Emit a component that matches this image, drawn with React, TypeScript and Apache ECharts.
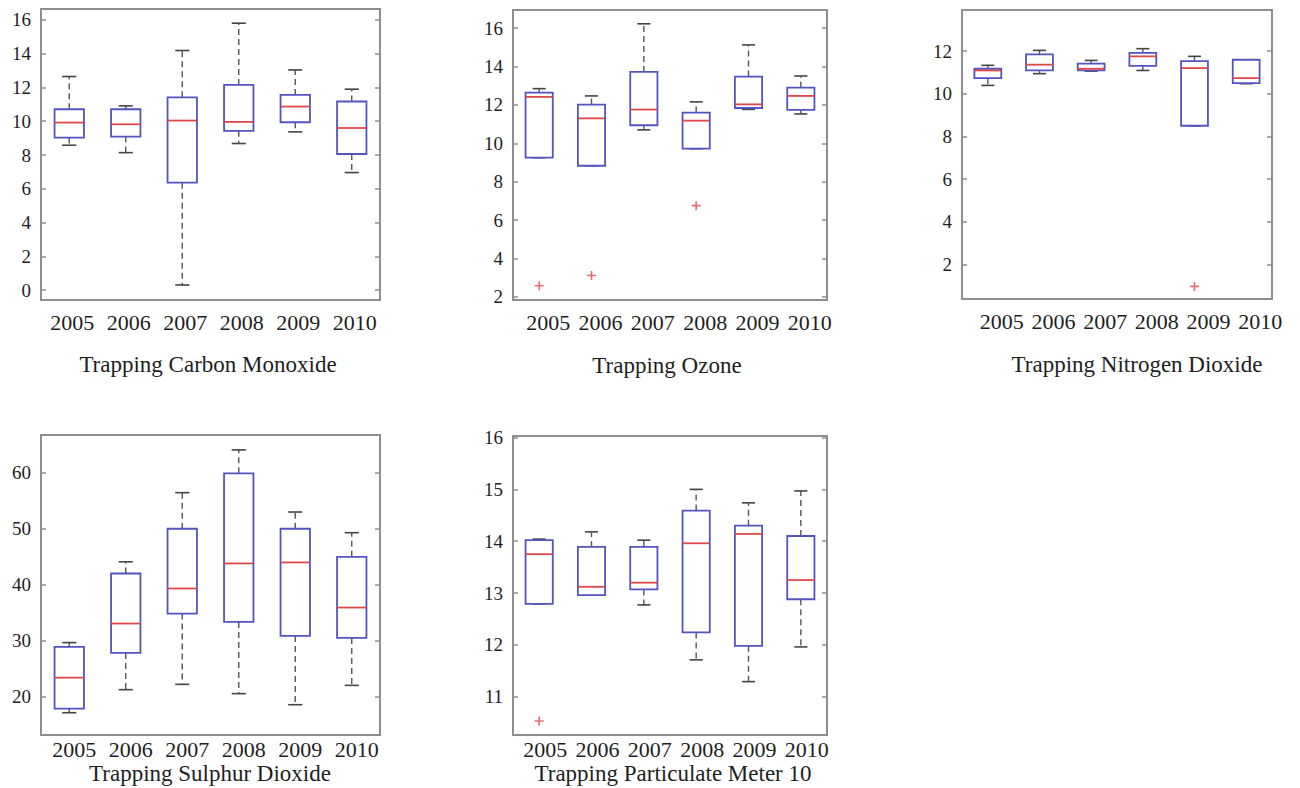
import React, { useEffect, useRef } from "react";
import * as echarts from "echarts";

// Years shown on every panel
const years = ["2005", "2006", "2007", "2008", "2009", "2010"];

// Five-number summaries per year: [lower whisker, Q1, median, Q3, upper whisker]
const carbonMonoxide = [
  [8.58, 9.03, 9.92, 10.71, 12.65],
  [8.14, 9.09, 9.82, 10.71, 10.91],
  [0.3, 6.36, 10.04, 11.42, 14.19],
  [8.68, 9.43, 9.96, 12.15, 15.81],
  [9.37, 9.94, 10.87, 11.56, 13.04],
  [6.96, 8.06, 9.6, 11.17, 11.9],
];
const carbonMonoxideOutliers: number[][] = [];

const ozone = [
  [9.25, 9.25, 12.42, 12.64, 12.85],
  [8.83, 8.83, 11.3, 12.02, 12.47],
  [10.7, 10.94, 11.76, 13.72, 16.23],
  [9.72, 9.72, 11.18, 11.6, 12.16],
  [11.77, 11.84, 12.03, 13.48, 15.13],
  [11.53, 11.74, 12.47, 12.9, 13.51],
];
const ozoneOutliers = [
  [0, 2.57],
  [1, 3.11],
  [3, 6.75],
];

const nitrogenDioxide = [
  [10.39, 10.73, 11.09, 11.17, 11.33],
  [10.94, 11.09, 11.36, 11.84, 12.03],
  [11.06, 11.09, 11.17, 11.41, 11.56],
  [11.09, 11.3, 11.75, 11.91, 12.11],
  [8.5, 8.5, 11.2, 11.53, 11.75],
  [10.47, 10.5, 10.73, 11.59, 11.59],
];
const nitrogenDioxideOutliers = [[4, 0.98]];

const sulphurDioxide = [
  [17.14, 17.86, 23.39, 28.87, 29.64],
  [21.25, 27.8, 33.04, 41.96, 44.05],
  [22.2, 34.82, 39.29, 49.94, 56.37],
  [20.54, 33.33, 43.75, 59.82, 63.99],
  [18.57, 30.83, 43.93, 49.94, 52.92],
  [22.02, 30.48, 35.89, 44.94, 49.23],
];
const sulphurDioxideOutliers: number[][] = [];

const particulate10 = [
  [12.79, 12.79, 13.75, 14.02, 14.04],
  [12.96, 12.96, 13.12, 13.89, 14.18],
  [12.77, 13.07, 13.2, 13.89, 14.02],
  [11.71, 12.24, 13.96, 14.59, 15.0],
  [11.29, 11.98, 14.14, 14.3, 14.74],
  [11.96, 12.88, 13.25, 14.1, 14.97],
];
const particulate10Outliers = [[0, 10.53]];

const FONT = '"Liberation Serif", "Times New Roman", Times, serif';
const TEXT = "#1e1e1e";
const FRAME = "#8e8e8e";
const BOX = "#5353c2";
const MEDIAN = "#e04848";
const WHISKER = "#555555";
const PLUS =
  "path://M4.1,0 L5.9,0 L5.9,4.1 L10,4.1 L10,5.9 L5.9,5.9 L5.9,10 L4.1,10 L4.1,5.9 L0,5.9 L0,4.1 L4.1,4.1 Z";

type Panel = {
  title: string;
  stats: number[][];
  outliers: number[][];
  min: number;
  max: number;
  step: number;
  grid: { left: number; top: number; width: number; height: number };
  titleX: number;
  titleY: number;
  labelMargin: number;
  labelShift: number;
};

const panels: Panel[] = [
  {
    title: "Trapping Carbon Monoxide",
    stats: carbonMonoxide,
    outliers: carbonMonoxideOutliers,
    min: -0.59,
    max: 16.65,
    step: 2,
    grid: { left: 41, top: 9, width: 339, height: 291 },
    titleX: 208,
    titleY: 364,
    labelMargin: 13,
    labelShift: 3,
  },
  {
    title: "Trapping Ozone",
    stats: ozone,
    outliers: ozoneOutliers,
    min: 1.83,
    max: 16.95,
    step: 2,
    grid: { left: 513, top: 10, width: 314, height: 290 },
    titleX: 667,
    titleY: 365,
    labelMargin: 13,
    labelShift: 9,
  },
  {
    title: "Trapping Nitrogen Dioxide",
    stats: nitrogenDioxide,
    outliers: nitrogenDioxideOutliers,
    min: 0.39,
    max: 13.92,
    step: 2,
    grid: { left: 962, top: 10, width: 310, height: 289 },
    titleX: 1137,
    titleY: 364,
    labelMargin: 13,
    labelShift: 14,
  },
  {
    title: "Trapping Sulphur Dioxide",
    stats: sulphurDioxide,
    outliers: sulphurDioxideOutliers,
    min: 13.17,
    max: 66.65,
    step: 10,
    grid: { left: 41, top: 435, width: 339, height: 300 },
    titleX: 210,
    titleY: 773,
    labelMargin: 5,
    labelShift: 5,
  },
  {
    title: "Trapping Particulate Meter 10",
    stats: particulate10,
    outliers: particulate10Outliers,
    min: 10.26,
    max: 16.03,
    step: 1,
    grid: { left: 513, top: 436, width: 314, height: 299 },
    titleX: 673,
    titleY: 773,
    labelMargin: 5,
    labelShift: 6,
  },
];

// Draws one box: dashed whiskers with caps, box outline and median bar
function renderBox(_params: any, api: any) {
  const i = api.value(0);
  const lo = api.value(1);
  const q1 = api.value(2);
  const md = api.value(3);
  const q3 = api.value(4);
  const hi = api.value(5);
  const band = api.size([1, 0])[0];
  const half = band * 0.26;
  const cap = band * 0.125;
  const pLo = api.coord([i, lo]);
  const cx = pLo[0];
  const yLo = pLo[1];
  const yQ1 = api.coord([i, q1])[1];
  const yMd = api.coord([i, md])[1];
  const yQ3 = api.coord([i, q3])[1];
  const yHi = api.coord([i, hi])[1];
  const dash = { stroke: WHISKER, lineWidth: 1.4, lineDash: [6, 4] };
  const capStyle = { stroke: "#444", lineWidth: 1.6 };
  const children: any[] = [];
  if (hi > q3) {
    children.push({ type: "line", shape: { x1: cx, y1: yQ3, x2: cx, y2: yHi }, style: dash });
  }
  if (lo < q1) {
    children.push({ type: "line", shape: { x1: cx, y1: yQ1, x2: cx, y2: yLo }, style: dash });
  }
  children.push({ type: "line", shape: { x1: cx - cap, y1: yHi, x2: cx + cap, y2: yHi }, style: capStyle });
  children.push({ type: "line", shape: { x1: cx - cap, y1: yLo, x2: cx + cap, y2: yLo }, style: capStyle });
  children.push({
    type: "rect",
    shape: { x: cx - half, y: yQ3, width: half * 2, height: yQ1 - yQ3 },
    style: { fill: "#ffffff", stroke: BOX, lineWidth: 1.8 },
  });
  children.push({
    type: "line",
    shape: { x1: cx - half, y1: yMd, x2: cx + half, y2: yMd },
    style: { stroke: MEDIAN, lineWidth: 1.8 },
  });
  return { type: "group", children };
}

function buildOption() {
  const grid: any[] = [];
  const xAxis: any[] = [];
  const yAxis: any[] = [];
  const series: any[] = [];
  const title: any[] = [];

  panels.forEach((p, k) => {
    grid.push({
      ...p.grid,
      show: true,
      borderColor: FRAME,
      borderWidth: 2,
      backgroundColor: "#ffffff",
    });
    xAxis.push({
      type: "category",
      gridIndex: k,
      data: years,
      axisLine: { show: false },
      axisTick: { show: false },
      splitLine: { show: false },
      axisLabel: {
        interval: 0,
        margin: p.labelMargin,
        fontFamily: FONT,
        fontSize: 22,
        lineHeight: 18,
        color: TEXT,
        padding: [0, 0, 0, p.labelShift * 2],
      },
    });
    const isTick = (v: number) => Math.abs(v / p.step - Math.round(v / p.step)) < 1e-6;
    const baseY = {
      type: "value",
      gridIndex: k,
      min: p.min,
      max: p.max,
      minInterval: p.step,
      maxInterval: p.step,
      axisLine: { show: false },
      splitLine: { show: false },
      axisTick: { show: true, inside: true, length: 5, lineStyle: { color: FRAME, width: 1.5 } },
    };
    yAxis.push({
      ...baseY,
      position: "left",
      axisLabel: {
        margin: 10,
        fontFamily: FONT,
        fontSize: 19,
        color: TEXT,
        showMinLabel: true,
        showMaxLabel: true,
        formatter: (v: number) => (isTick(v) ? String(Math.round(v)) : ""),
      },
    });
    yAxis.push({
      ...baseY,
      position: "right",
      axisLabel: { show: false },
    });
    series.push({
      type: "custom",
      xAxisIndex: k,
      yAxisIndex: k * 2,
      renderItem: renderBox,
      encode: { x: 0, y: [1, 2, 3, 4, 5] },
      data: p.stats.map((row, i) => [i, ...row]),
      clip: false,
      z: 2,
    });
    series.push({
      type: "scatter",
      xAxisIndex: k,
      yAxisIndex: k * 2,
      symbol: PLUS,
      symbolSize: 9,
      itemStyle: { color: MEDIAN },
      data: p.outliers,
      z: 3,
    });
    title.push({
      text: p.title,
      left: p.titleX,
      top: p.titleY - 9,
      textAlign: "center",
      padding: 0,
      textStyle: {
        fontFamily: FONT,
        fontSize: 23,
        lineHeight: 18,
        fontWeight: "normal",
        color: TEXT,
      },
    });
  });

  return {
    animation: false,
    backgroundColor: "#ffffff",
    title,
    grid,
    xAxis,
    yAxis,
    series,
  };
}

export default function App() {
  const ref = useRef<HTMLDivElement>(null);
  useEffect(() => {
    if (!ref.current) return;
    const chart = echarts.init(ref.current, undefined, { renderer: "svg" });
    chart.setOption(buildOption() as any);
    return () => chart.dispose();
  }, []);
  return (
    <div
      ref={ref}
      style={{ position: "absolute", left: 0, top: 0, width: 1300, height: 788, background: "#fff" }}
    />
  );
}
